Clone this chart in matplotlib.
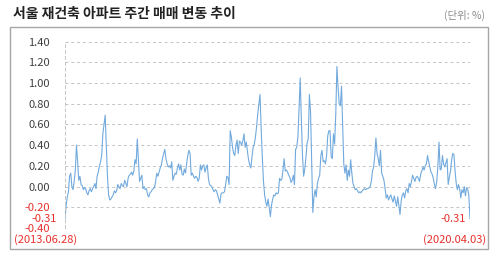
import matplotlib
matplotlib.use("Agg")
import matplotlib.pyplot as plt
from matplotlib.patches import Rectangle
import pandas as pd

plt.rcParams['font.family'] = ['Noto Sans CJK KR', 'DejaVu Sans']

# Weekly change (%) of Seoul reconstruction apartments, 2013.06.28 - 2020.04.03
start_date = "2013-06-28"
changes = [
    -0.31, -0.18, -0.10, -0.05, 0.10, 0.13, 0.00, -0.03, 0.05, 0.16,
    0.40, 0.24, 0.06, 0.10, 0.02, 0.01, -0.03, -0.01, -0.02, -0.06,
    -0.08, -0.04, -0.02, -0.05, -0.02, 0.00, 0.03, -0.02, 0.10, 0.14,
    0.20, 0.24, 0.30, 0.51, 0.60, 0.69, 0.40, 0.10, -0.08, -0.13,
    -0.12, -0.10, -0.08, -0.04, -0.06, -0.04, 0.02, 0.00, -0.02, 0.03,
    0.01, 0.00, 0.06, 0.03, 0.00, 0.08, 0.11, 0.12, 0.14, 0.11,
    0.15, 0.26, 0.22, 0.46, 0.26, 0.05, 0.08, 0.11, -0.02, 0.00,
    -0.03, -0.02, -0.08, -0.10, -0.06, -0.05, -0.03, -0.02, -0.01, 0.05,
    0.13, 0.10, 0.14, 0.18, 0.21, 0.27, 0.32, 0.36, 0.27, 0.22,
    0.19, 0.20, 0.18, 0.24, 0.06, 0.10, 0.13, 0.12, 0.18, 0.22,
    0.16, 0.21, 0.12, 0.11, 0.17, 0.13, 0.22, 0.30, 0.35, 0.32,
    0.11, 0.13, 0.10, 0.08, 0.10, 0.09, 0.05, 0.08, 0.21, 0.16,
    0.20, 0.21, 0.14, 0.18, 0.21, 0.08, 0.02, 0.01, 0.00, -0.03,
    -0.05, -0.03, -0.04, -0.08, -0.12, -0.16, -0.07, -0.06, -0.06, -0.05,
    0.02, 0.10, 0.09, 0.02, 0.54, 0.48, 0.38, 0.32, 0.30, 0.40,
    0.45, 0.32, 0.44, 0.43, 0.40, 0.44, 0.51, 0.38, 0.43, 0.34,
    0.26, 0.21, 0.18, 0.29, 0.38, 0.41, 0.48, 0.58, 0.70, 0.80,
    0.89, 0.55, 0.28, 0.05, -0.08, -0.15, -0.19, -0.12, -0.20, -0.29,
    -0.18, -0.12, -0.08, -0.09, -0.06, -0.07, -0.06, 0.08, 0.06, 0.07,
    0.16, 0.27, 0.15, 0.16, 0.14, 0.11, 0.09, 0.04, 0.06, 0.11,
    0.02, 0.36, 0.38, 0.48, 0.75, 1.05, 0.65, 0.30, 0.10, 0.17,
    0.28, 0.42, 0.46, 0.89, 0.73, 0.26, -0.25, -0.10, -0.03, -0.10,
    0.03, 0.08, 0.11, 0.30, 0.35, 0.24, 0.25, 0.22, 0.30, 0.49,
    0.54, 0.54, 0.29, 0.27, 0.51, 0.41, 0.70, 1.16, 0.96, 0.80,
    0.78, 0.97, 0.60, 0.22, 0.13, 0.21, 0.06, 0.16, 0.10, 0.26,
    0.13, 0.03, 0.00, -0.03, -0.02, -0.04, -0.06, -0.05, -0.06, -0.04,
    -0.03, -0.02, -0.03, -0.02, -0.02, -0.01, 0.00, 0.05, 0.15, 0.19,
    0.30, 0.47, 0.32, 0.27, 0.20, 0.35, 0.13, 0.10, 0.06, -0.02,
    -0.11, -0.08, -0.13, -0.10, -0.08, -0.12, -0.15, -0.09, -0.14, -0.19,
    -0.10, -0.18, -0.27, -0.14, -0.08, -0.06, -0.11, -0.04, -0.02, -0.06,
    0.03, 0.00, 0.05, 0.11, 0.08, 0.05, 0.09, 0.10, 0.08, 0.05,
    0.12, 0.15, 0.19, 0.16, 0.20, 0.22, 0.30, 0.24, 0.19, 0.14,
    0.12, 0.08, 0.02, -0.02, 0.05, 0.20, 0.43, 0.16, 0.17, 0.30,
    0.22, 0.19, 0.23, 0.27, 0.02, 0.09, 0.15, 0.26, 0.32, 0.31,
    0.15, 0.03, -0.03, 0.02, -0.02, -0.11, -0.03, -0.06, 0.00, -0.09,
    -0.01, -0.02, -0.09, -0.31,
]
yticks = [-0.40, -0.20, 0.00, 0.20, 0.40, 0.60, 0.80, 1.00, 1.20, 1.40]

dates = pd.date_range(start_date, periods=len(changes), freq="7D")

RED = "#e8302c"
GREY_TXT = "#404040"

fig = plt.figure(figsize=(5.0, 2.58), dpi=100)
fig.patch.set_facecolor("white")

# outer frame
fig.patches.append(Rectangle((0.02, 0.035), 0.956, 0.86, transform=fig.transFigure,
                             fill=False, edgecolor="#a6a6a6", linewidth=1.0))

fig.text(0.026, 1 - 13.5 / 258, "서울 재건축 아파트 주간 매매 변동 추이",
         fontsize=10, fontweight="bold", color="#222222", va="center", ha="left")
fig.text(0.970, 1 - 15 / 258, "(단위: %)", fontsize=7.5, color="#8c8c8c",
         va="center", ha="right")

ax = fig.add_axes([0.13, 0.1163, 0.81, 0.7221])
ax.plot(dates, changes, color="#72aadd", linewidth=0.8)

ax.set_xlim(dates[0], dates[-1])
ax.set_ylim(-0.40, 1.40)
ax.set_yticks(yticks)
ax.set_yticklabels([f"{t:.2f}" for t in yticks], fontsize=8)
for lab, t in zip(ax.get_yticklabels(), yticks):
    lab.set_color(RED if t < 0 else GREY_TXT)
ax.tick_params(axis="y", length=0, pad=11)
ax.set_xticks([])

ax.grid(axis="y", color="#c4c4c4", linestyle=(0, (3, 3)), linewidth=0.7)
for side in ["top", "right", "bottom"]:
    ax.spines[side].set_visible(False)
ax.spines["left"].set_color("#c4c4c4")
ax.spines["left"].set_linestyle((0, (3, 3)))
ax.spines["left"].set_linewidth(0.7)

# start / end annotations
ax.annotate(f"{changes[0]:.2f}", xy=(dates[0], changes[0]), xytext=(-6, 0),
            textcoords="offset points", ha="right", va="center",
            fontsize=8, color=RED, annotation_clip=False)
ax.annotate(f"({dates[0]:%Y.%m.%d})", xy=(dates[0], changes[0]), xytext=(-14, -15.2),
            textcoords="offset points", ha="center", va="center",
            fontsize=8, color=RED, annotation_clip=False)
ax.annotate(f"{changes[-1]:.2f}", xy=(dates[-1], changes[-1]), xytext=(-3, 0),
            textcoords="offset points", ha="right", va="center",
            fontsize=8, color=RED, annotation_clip=False)
ax.annotate(f"({dates[-1]:%Y.%m.%d})", xy=(dates[-1], changes[-1]), xytext=(-11, -15.2),
            textcoords="offset points", ha="center", va="center",
            fontsize=8, color=RED, annotation_clip=False)

fig.savefig("out.png", dpi=100)
